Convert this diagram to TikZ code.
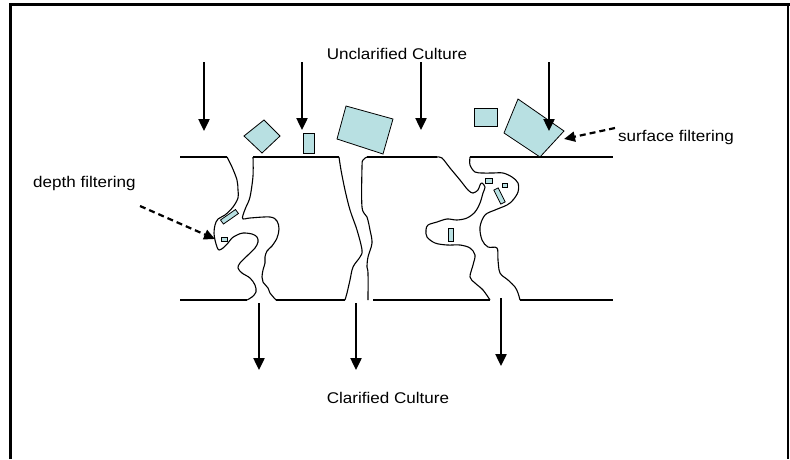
\documentclass[tikz,border=0pt]{standalone}
\usepackage{fontspec}
\setmainfont{Liberation Sans}
\usetikzlibrary{arrows.meta}
\definecolor{cellblue}{RGB}{184,224,226}
\tikzset{
  membrane/.style={line width=1.1pt, line join=round},
  wall/.style={membrane, smooth, tension=0.55},
  particle/.style={fill=cellblue, draw=black, line width=0.8pt},
  flow/.style={line width=2.4pt, -{Triangle[length=12pt,width=11pt]}},
  pointer/.style={line width=2.2pt, dash pattern=on 6pt off 4pt, -{Triangle[length=11pt,width=10pt]}},
  label/.style={inner sep=0pt, font=\fontsize{15.5}{18}\selectfont}
}
\begin{document}
\begin{tikzpicture}[x=1pt,y=-1pt]
\useasboundingbox (0,0) rectangle (790,459);
% frame
\draw[line width=3pt] (10,459) -- (10,4) -- (790,4);
\draw[line width=1.5pt] (788,4) -- (788,459);

% labels
\node[label, anchor=base] (unc) at (397,59) {\scalebox{1.1}[1]{Unclarified Culture}};
\node[label, anchor=base] (cla) at (388,403) {\scalebox{1.1}[1]{Clarified Culture}};
\node[label, anchor=west] (depth) at (33,183.5) {\scalebox{1.1}[1]{depth filtering}};
\node[label, anchor=west] (surf) at (618,137.5) {\scalebox{1.1}[1]{surface filtering}};

% membrane straight segments
\draw[membrane] (180,157) -- (227,157);
\draw[membrane] (253,157) -- (339,157);
\draw[membrane] (367,157) -- (437,157);
\draw[membrane] (470,157) -- (613,157);
\draw[membrane] (180,300) -- (247,300);
\draw[membrane] (276,300) -- (345,300);
\draw[membrane] (373,300) -- (490,300);
\draw[membrane] (520,300) -- (613,300);

% channel 1
\draw[wall] plot coordinates {(227,157) (232,167) (237,180) (238,190) (238,198) (233,207) (225,215) (218,219) (215,225) (214,233) (215,240) (217,247) (219,250) (223,248) (228,243) (232,238) (237,235) (243,233) (252,234) (257,237) (258,242) (255,248) (248,255) (240,263) (238,268) (242,273) (250,278) (255,285) (256,292) (252,297) (247,300)};
\draw[wall] plot coordinates {(253,157) (253,176) (250,197) (246,207) (243,215) (243,219) (250,218) (270,217) (277,221) (279,229) (277,238) (272,246) (267,251) (265,257) (265,263) (263,270) (262,277) (263,282) (268,288) (270,293) (276,300)};

% channel 2
\draw[wall] plot coordinates {(339,157) (341,170) (345,190) (350,210) (357,230) (362,250) (360,257) (353,267) (350,280) (347,293) (345,300)};
\draw[wall] plot coordinates {(367,157) (363,160) (362,167) (362,207) (367,217) (370,230) (372,243) (368,257) (367,267) (368,273) (368,300)};

% channel 3
\draw[wall] plot coordinates {(437,157) (442,158) (450,168) (460,180) (468,190) (473,193) (478,190) (480,185) (482,183) (485,187) (483,193) (480,203) (475,212) (467,218) (457,220) (447,219) (437,222) (428,225) (426,230) (427,237) (435,243) (447,245) (460,245) (470,248) (475,255) (473,265) (470,277) (475,283) (483,290) (490,300)};
\draw[wall] plot coordinates {(470,157) (470,165) (475,172) (483,173) (493,173) (503,173) (512,177) (518,183) (518,192) (513,200) (507,205) (495,210) (485,215) (480,227) (482,240) (488,247) (497,248) (498,260) (500,273) (508,280) (515,287) (518,293) (520,300)};

% particles on surface
\draw[particle] (264,120) -- (280,136) -- (262,153) -- (244,136) -- cycle;
\draw[particle] (303,133) rectangle (314,153);
\draw[particle] (346,106) -- (393,119) -- (383,154) -- (337,139) -- cycle;
\draw[particle] (474,108) rectangle (497,126);
\draw[particle] (518,99) -- (564,131) -- (540,157) -- (504,133) -- cycle;

% particles in pores
\draw[particle] (220.5,220) -- (235.5,209.5) -- (238.5,213.5) -- (223.5,224) -- cycle;
\draw[particle] (221,237) rectangle (227,241);
\draw[particle] (485,178) rectangle (492,183);
\draw[particle] (502,183) rectangle (507,187);
\draw[particle] (493.8,190.1) -- (498.2,187.9) -- (505.2,201.9) -- (500.8,204.1) -- cycle;
\draw[particle] (448,228) rectangle (453,241);

% flow arrows in
\coordinate (i1s) at (204,62);  \coordinate (i1e) at (204,131);
\coordinate (i2s) at (302,62);  \coordinate (i2e) at (302,130);
\coordinate (i3s) at (421,62);  \coordinate (i3e) at (421,130);
\coordinate (i4s) at (549,62);  \coordinate (i4e) at (549,131);
\draw[flow] (i1s) -- (i1e);
\draw[flow] (i2s) -- (i2e);
\draw[flow] (i3s) -- (i3e);
\draw[flow] (i4s) -- (i4e);

% flow arrows out
\coordinate (o1s) at (259,303); \coordinate (o1e) at (259,370);
\coordinate (o2s) at (356,303); \coordinate (o2e) at (356,370);
\coordinate (o3s) at (501,298); \coordinate (o3e) at (501,366);
\draw[flow] (o1s) -- (o1e);
\draw[flow] (o2s) -- (o2e);
\draw[flow] (o3s) -- (o3e);

% pointers
\coordinate (dp) at (140,206); \coordinate (dpe) at (215,239);
\coordinate (sp) at (615,128); \coordinate (spe) at (564,139);
\draw[pointer] (dp) -- (dpe);
\draw[pointer] (sp) -- (spe);
\end{tikzpicture}
\end{document}
